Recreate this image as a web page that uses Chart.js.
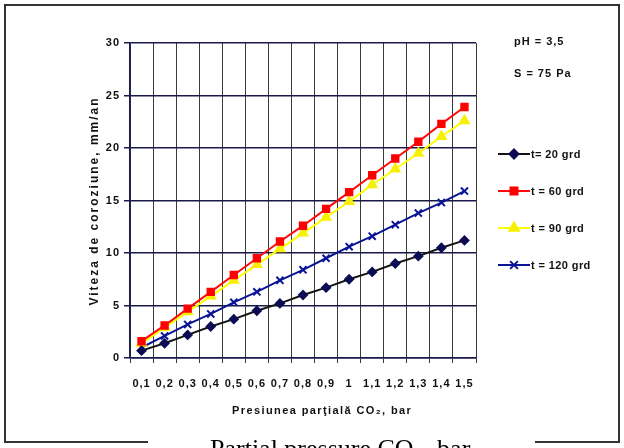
<!DOCTYPE html>
<html>
<head>
<meta charset="utf-8">
<script src="https://cdn.jsdelivr.net/npm/chart.js@4"></script>
<style>
  html, body { margin: 0; padding: 0; background: #fff; }
  #wrap { position: relative; width: 624px; height: 448px; }
</style>
</head>
<body>
<div id="wrap"><canvas id="coroziune" width="624" height="448"></canvas></div>
<script>
// Presiunea partiala CO2 (bar)
const presiune = ['0,1', '0,2', '0,3', '0,4', '0,5', '0,6', '0,7', '0,8', '0,9', '1', '1,1', '1,2', '1,3', '1,4', '1,5'];

// Viteza de coroziune (mm/an) pentru fiecare temperatura
const t20 = [0.7, 1.4, 2.2, 3.0, 3.7, 4.5, 5.2, 6.0, 6.7, 7.5, 8.2, 9.0, 9.7, 10.5, 11.2];
const t60 = [1.6, 3.1, 4.7, 6.3, 7.9, 9.5, 11.1, 12.6, 14.2, 15.8, 17.4, 19.0, 20.6, 22.3, 23.9];
const t90 = [1.4, 2.9, 4.4, 5.9, 7.4, 8.9, 10.4, 11.9, 13.4, 14.9, 16.5, 18.0, 19.5, 21.1, 22.6];
const t120 = [1.0, 2.1, 3.2, 4.2, 5.3, 6.3, 7.4, 8.4, 9.5, 10.6, 11.6, 12.7, 13.8, 14.8, 15.9];

const etichete = ['t= 20 grd', 't = 60 grd', 't = 90 grd', 't = 120 grd'];

const FAM = 'Liberation Sans, Arial, sans-serif';
const fontAxa = { family: FAM, size: 11, weight: 'bold' };

// titluri, legenda, parametrii si chenarul sunt desenate manual
const extraPlugin = {
  id: 'extra',
  beforeDraw(chart) {
    // textul din original e usor spatiat
    chart.ctx.letterSpacing = '1px';
  },
  afterDraw(chart) {
    const ctx = chart.ctx;
    ctx.save();

    // titlu axa Y
    ctx.save();
    ctx.translate(95, 201);
    ctx.rotate(-Math.PI / 2);
    ctx.fillStyle = '#111';
    ctx.font = 'bold 12px ' + FAM;
    ctx.letterSpacing = '2px';
    ctx.textAlign = 'center';
    ctx.textBaseline = 'middle';
    ctx.fillText('Viteza de coroziune, mm/an', 0, 0);
    ctx.restore();

    // titlu axa X
    ctx.fillStyle = '#111';
    ctx.font = 'bold 11px ' + FAM;
    ctx.letterSpacing = '1.4px';
    ctx.textAlign = 'left';
    ctx.textBaseline = 'middle';
    ctx.fillText('Presiunea parţială CO₂, bar', 232, 411);

    // legenda in dreapta
    ctx.letterSpacing = '0.4px';
    chart.data.datasets.forEach((ds, i) => {
      const y = 154 + 37 * i;
      ctx.strokeStyle = ds.borderColor;
      ctx.lineWidth = 2;
      ctx.beginPath();
      ctx.moveTo(498, y);
      ctx.lineTo(530, y);
      ctx.stroke();
      ctx.fillStyle = ds.pointBackgroundColor;
      ctx.strokeStyle = ds.pointBorderColor;
      Chart.helpers.drawPoint(ctx, {
        pointStyle: ds.pointStyle,
        radius: ds.pointRadius + 0.5,
        borderWidth: ds.pointBorderWidth,
        rotation: 0
      }, 514, y);
      ctx.fillStyle = '#111';
      ctx.font = 'bold 11px ' + FAM;
      ctx.textBaseline = 'middle';
      ctx.textAlign = 'left';
      ctx.fillText(ds.label, 531, y + 1);
    });

    // parametri
    ctx.letterSpacing = '1px';
    ctx.fillStyle = '#111';
    ctx.font = 'bold 11px ' + FAM;
    ctx.textBaseline = 'middle';
    ctx.fillText('pH = 3,5', 514, 42);
    ctx.fillText('S = 75 Pa', 514, 74);

    // chenar exterior
    ctx.strokeStyle = '#333';
    ctx.lineWidth = 2;
    ctx.beginPath();
    ctx.moveTo(148, 442);
    ctx.lineTo(5, 442);
    ctx.lineTo(5, 5);
    ctx.lineTo(619, 5);
    ctx.lineTo(619, 442);
    ctx.lineTo(535, 442);
    ctx.stroke();

    // titlu in engleza (taiat jos)
    ctx.letterSpacing = '0px';
    ctx.fillStyle = '#000';
    ctx.font = '26px Liberation Serif, Times New Roman, serif';
    ctx.textBaseline = 'alphabetic';
    ctx.textAlign = 'left';
    const x0 = 210, yb = 457;
    const p1 = 'Partial pressure CO';
    ctx.fillText(p1, x0, yb);
    const w1 = ctx.measureText(p1).width;
    ctx.font = '17px Liberation Serif, Times New Roman, serif';
    ctx.fillText('2', x0 + w1 + 1, yb + 6);
    const w2 = ctx.measureText('2').width;
    ctx.font = '26px Liberation Serif, Times New Roman, serif';
    ctx.fillText(', bar', x0 + w1 + w2 + 2, yb);
    ctx.restore();
  }
};

function serie(label, data, line, point, style, radius) {
  return {
    label: label,
    data: data,
    borderColor: line,
    backgroundColor: point,
    pointBackgroundColor: point,
    pointBorderColor: point,
    pointStyle: style,
    pointRadius: radius,
    pointBorderWidth: 2,
    borderWidth: 2,
    tension: 0,
    fill: false
  };
}

new Chart(document.getElementById('coroziune').getContext('2d'), {
  type: 'line',
  data: {
    labels: presiune,
    datasets: [
      serie(etichete[0], t20, '#141414', '#0c0c55', 'rectRot', 4),
      serie(etichete[1], t60, '#ff0a0a', '#ff0000', 'rect', 4.5),
      serie(etichete[2], t90, '#ffff00', '#f7f000', 'triangle', 5),
      serie(etichete[3], t120, '#0a1496', '#0a1496', 'crossRot', 5)
    ]
  },
  options: {
    responsive: false,
    animation: false,
    layout: { padding: { top: 43, left: 0, right: 148, bottom: 0 } },
    plugins: {
      legend: { display: false },
      tooltip: { enabled: false }
    },
    scales: {
      x: {
        offset: true,
        grid: { offset: true, color: '#3a3a3a', lineWidth: 1, tickLength: 5, drawTicks: true },
        border: { color: '#1a1a4a', width: 1.5 },
        ticks: { color: '#111', font: fontAxa, padding: 14, maxRotation: 0, autoSkip: false },
        afterFit(scale) { scale.height = 90; }
      },
      y: {
        min: 0,
        max: 30,
        grid: { color: '#1a1a4a', lineWidth: 1.5, tickLength: 6 },
        border: { color: '#1a1a4a', width: 1.5 },
        ticks: { stepSize: 5, color: '#111', font: fontAxa, padding: 4 },
        afterFit(scale) { scale.width = 130; }
      }
    }
  },
  plugins: [extraPlugin]
});
</script>
</body>
</html>
